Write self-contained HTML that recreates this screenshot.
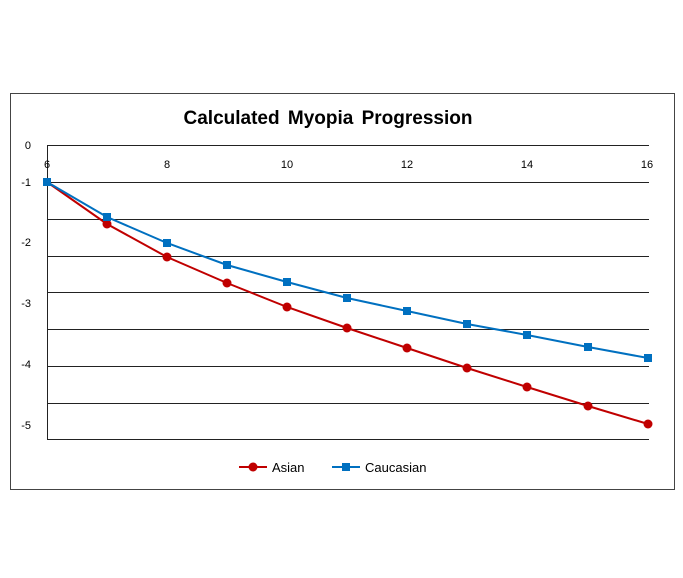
<!DOCTYPE html>
<html><head><style>body{margin:0;background:#fff}</style></head><body>
<svg width="683" height="573" xmlns="http://www.w3.org/2000/svg" font-family="Liberation Sans, sans-serif">
<rect x="10.5" y="93.5" width="664" height="396" fill="#fff" stroke="#444" stroke-width="1"/>
<text x="328" y="124" text-anchor="middle" font-size="19" font-weight="bold" word-spacing="3">Calculated Myopia Progression</text>
<g stroke="#222" stroke-width="1">
<line x1="47" y1="145.5" x2="649" y2="145.5"/>
<line x1="47" y1="182.5" x2="649" y2="182.5"/>
<line x1="47" y1="219.5" x2="649" y2="219.5"/>
<line x1="47" y1="256.5" x2="649" y2="256.5"/>
<line x1="47" y1="292.5" x2="649" y2="292.5"/>
<line x1="47" y1="329.5" x2="649" y2="329.5"/>
<line x1="47" y1="366.5" x2="649" y2="366.5"/>
<line x1="47" y1="403.5" x2="649" y2="403.5"/>
<line x1="47" y1="439.5" x2="649" y2="439.5"/>
<line x1="47.5" y1="145" x2="47.5" y2="440"/>
</g>
<g font-size="11" fill="#000" text-anchor="middle">
<text x="47" y="168">6</text><text x="167" y="168">8</text><text x="287" y="168">10</text><text x="407" y="168">12</text><text x="527" y="168">14</text><text x="647" y="168">16</text>
</g>
<g font-size="11" fill="#000" text-anchor="end">
<text x="31" y="149">0</text><text x="31" y="186">-1</text><text x="31" y="246">-2</text><text x="31" y="307">-3</text><text x="31" y="368">-4</text><text x="31" y="429">-5</text>
</g>
<polyline fill="none" stroke="#c00000" stroke-width="2" points="47,182 107,224 167,257 227,283 287,307 347,328 407,348 467,368 527,387 588,406 648,424"/>
<g fill="#c00000">
<circle cx="107" cy="224" r="4.5"/><circle cx="167" cy="257" r="4.5"/><circle cx="227" cy="283" r="4.5"/><circle cx="287" cy="307" r="4.5"/><circle cx="347" cy="328" r="4.5"/><circle cx="407" cy="348" r="4.5"/><circle cx="467" cy="368" r="4.5"/><circle cx="527" cy="387" r="4.5"/><circle cx="588" cy="406" r="4.5"/><circle cx="648" cy="424" r="4.5"/>
</g>
<polyline fill="none" stroke="#0070c0" stroke-width="2" points="47,182 107,217 167,243 227,265 287,282 347,298 407,311 467,324 527,335 588,347 648,358"/>
<g fill="#0070c0">
<rect x="43" y="178" width="8" height="8"/><rect x="103" y="213" width="8" height="8"/><rect x="163" y="239" width="8" height="8"/><rect x="223" y="261" width="8" height="8"/><rect x="283" y="278" width="8" height="8"/><rect x="343" y="294" width="8" height="8"/><rect x="403" y="307" width="8" height="8"/><rect x="463" y="320" width="8" height="8"/><rect x="523" y="331" width="8" height="8"/><rect x="584" y="343" width="8" height="8"/><rect x="644" y="354" width="8" height="8"/>
</g>
<line x1="239" y1="467" x2="267" y2="467" stroke="#c00000" stroke-width="2"/>
<circle cx="253" cy="467" r="4.5" fill="#c00000"/>
<text x="272" y="472" font-size="13">Asian</text>
<line x1="332" y1="467" x2="360" y2="467" stroke="#0070c0" stroke-width="2"/>
<rect x="342" y="463" width="8" height="8" fill="#0070c0"/>
<text x="365" y="472" font-size="13">Caucasian</text>
</svg>
</body></html>
